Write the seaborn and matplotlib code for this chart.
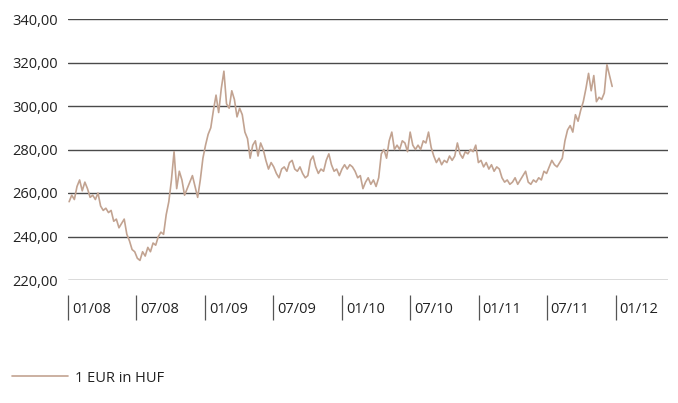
import pandas as pd
import numpy as np
import matplotlib.pyplot as plt
import matplotlib.transforms as mtransforms
import seaborn as sns

# weekly EUR/HUF reading (Jan 2008 - Dec 2011)
start_date = "2008-01-04"
eur_huf = [
    256, 259, 257, 263, 266, 261, 265, 262, 258, 259, 257, 260, 254, 252, 253, 251,
    252, 247, 248, 244, 246, 248, 241, 238, 234, 233, 230, 229, 233, 231, 235, 233,
    237, 236, 240, 242, 241, 250, 256, 266, 279, 262, 270, 266, 259, 262, 265, 268,
    263, 258, 266, 276, 282, 287, 290, 298, 305, 297, 308, 316, 301, 299, 307, 303,
    295, 299, 296, 288, 285, 276, 282, 284, 277, 283, 280, 275, 271, 274, 272, 269,
    267, 271, 272, 270, 274, 275, 271, 270, 272, 269, 267, 268, 275, 277, 272, 269,
    271, 270, 275, 278, 273, 270, 271, 268, 271, 273, 271, 273, 272, 270, 267, 268,
    262, 265, 267, 264, 266, 263, 267, 278, 280, 276, 284, 288, 280, 282, 280, 284,
    283, 279, 288, 282, 280, 282, 280, 284, 283, 288, 281, 277, 274, 276, 273, 275,
    274, 277, 275, 277, 283, 278, 276, 279, 278, 280, 279, 282, 274, 275, 272, 274,
    271, 273, 270, 272, 271, 267, 265, 266, 264, 265, 267, 264, 266, 268, 270, 265,
    264, 266, 265, 267, 266, 270, 269, 272, 275, 273, 272, 274, 276, 284, 289, 291,
    288, 296, 293, 298, 302, 308, 315, 307, 314, 302, 304, 303, 306, 319, 314, 309,
]
tick_dates = ["2008-01-01", "2008-07-01", "2009-01-01", "2009-07-01", "2010-01-01",
              "2010-07-01", "2011-01-01", "2011-07-01", "2012-01-01"]
tick_labels = ["01/08", "07/08", "01/09", "07/09", "01/10", "07/10", "01/11", "07/11", "01/12"]
y_ticks = [220, 240, 260, 280, 300, 320, 340]
series_name = "1 EUR in HUF"

df = pd.DataFrame({
    "date": pd.date_range(start_date, periods=len(eur_huf), freq="7D"),
    "rate": eur_huf,
})

sns.set_style("white")
plt.rcParams["font.family"] = ["Open Sans", "DejaVu Sans"]

fig = plt.figure(figsize=(6.78, 4.03), dpi=100)
ax = fig.add_axes([68 / 678, 1 - 280 / 403, 600 / 678, 261 / 403])

sns.lineplot(data=df, x="date", y="rate", color="#c2a391", linewidth=1.2, ax=ax, label=series_name)

ax.set_ylim(220, 340)
ax.set_xlim(pd.Timestamp("2008-01-01"), pd.Timestamp("2012-05-20"))
ax.set_yticks(y_ticks)
ax.set_yticklabels([f"{v},00" for v in y_ticks])
for v in y_ticks:
    ax.axhline(v, color="#4a4a4a", linewidth=1.0, zorder=0)

for s in ax.spines.values():
    s.set_visible(False)
ax.spines["bottom"].set_position(("outward", 11))

ax.set_xticks(pd.to_datetime(tick_dates))
ax.set_xticklabels(tick_labels)
ax.tick_params(axis="x", direction="out", length=18, width=0.9, color="#555555",
               pad=-13, labelsize=10.5, labelcolor="#222222", bottom=True)
ax.tick_params(axis="y", length=0, pad=7, labelsize=10.5, labelcolor="#222222")
offset = mtransforms.ScaledTranslation(4 / 100, 0, fig.dpi_scale_trans)
for lab in ax.get_xticklabels():
    lab.set_horizontalalignment("left")
    lab.set_transform(lab.get_transform() + offset)

ax.set_xlabel("")
ax.set_ylabel("")
ax.get_legend().remove()
handles, labels = ax.get_legend_handles_labels()
fig.legend(handles, labels, loc="center left", bbox_to_anchor=(5 / 678, 1 - 378 / 403),
           frameon=False, handlelength=3.8, handletextpad=0.5, borderpad=0,
           fontsize=10.5, labelcolor="#222222")

fig.savefig("out.png", dpi=100)
